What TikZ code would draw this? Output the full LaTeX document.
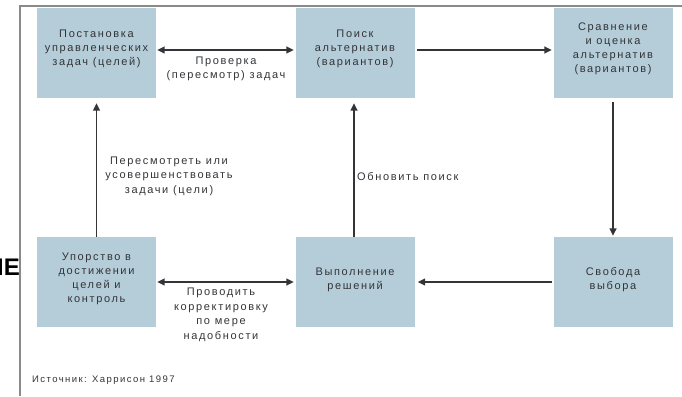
\documentclass[tikz,border=0pt]{standalone}
\usepackage{fontspec}
\setmainfont{Liberation Sans}
\newfontfamily\boxfont[LetterSpace=15]{Liberation Sans}
\newfontfamily\headfont{Liberation Sans}
\usetikzlibrary{arrows.meta}
\definecolor{boxblue}{RGB}{181,205,217}
\definecolor{inkgray}{RGB}{50,52,55}
\definecolor{framegray}{RGB}{138,138,138}
\begin{document}
\begin{tikzpicture}[x=1pt,y=-1pt,
  stepbox/.style={fill=boxblue,draw=none,minimum width=119pt,minimum height=90pt,inner sep=0pt},
  boxtext/.style={align=center,text=inkgray,inner sep=0pt,
    font=\boxfont\fontsize{11pt}{14pt}\selectfont},
  note/.style={align=center,text=inkgray,inner sep=0pt,
    font=\boxfont\fontsize{11pt}{14.5pt}\selectfont},
  flow/.style={draw=inkgray,line width=1.5pt,-{Triangle[length=7.5pt,width=7pt]}},
  both/.style={draw=inkgray,line width=1.5pt,{Triangle[length=7.5pt,width=7pt]}-{Triangle[length=7.5pt,width=7pt]}}]
\useasboundingbox (0,0) rectangle (682,396);
\clip (0,0) rectangle (682,396);

% frame lines
\draw[framegray,line width=2pt] (20,396) -- (20,6) -- (683,6);

% partly hidden heading at the left edge
\node[anchor=base east,inner sep=0pt,font=\headfont\bfseries\fontsize{24pt}{24pt}\selectfont] (head) at (20,275) {ЛЕ};

% boxes
\node[stepbox] (b1) at (96.5,53) {};
\node[stepbox] (b2) at (355,53) {};
\node[stepbox] (b3) at (613,53) {};
\node[stepbox] (b4) at (96.5,282) {};
\node[stepbox] (b5) at (355,282) {};
\node[stepbox] (b6) at (613,282) {};

% box captions
\node[boxtext] (t1) at ([yshift=4pt]b1.center) {Постановка\\управленческих\\задач (целей)};
\node[boxtext] (t2) at ([yshift=4pt]b2.center) {Поиск\\альтернатив\\(вариантов)};
\node[boxtext] (t3) at ([yshift=4pt]b3.center) {Сравнение\\и оценка\\альтернатив\\(вариантов)};
\node[boxtext] (t4) at ([yshift=3pt]b4.center) {Упорство в\\достижении\\целей и\\контроль};
\node[boxtext] (t5) at ([yshift=2pt]b5.center) {Выполнение\\решений};
\node[boxtext] (t6) at ([yshift=2pt]b6.center) {Свобода\\выбора};

% connectors
\draw[both,shorten <=1pt,shorten >=1.5pt] ([yshift=3pt]b1.east) -- ([yshift=3pt]b2.west);
\draw[flow,shorten <=2.5pt,shorten >=1.5pt] ([yshift=3pt]b2.east) -- ([yshift=3pt]b3.west);
\draw[flow,shorten <=4pt,shorten >=1pt] (b3.south) -- (b6.north);
\draw[flow,shorten <=1.5pt,shorten >=3pt] (b6.west) -- (b5.east);
\draw[flow,shorten >=5pt] ([xshift=-1pt]b5.north) -- ([xshift=-1pt]b2.south);
\draw[flow,shorten >=5pt] (b4.north) -- (b1.south);
\draw[both,shorten <=1pt,shorten >=1.5pt] (b4.east) -- (b5.west);

% connector labels
\node[note] (l1) at (226,69) {Проверка\\(пересмотр) задач};
\node[note] (l2) at (169,176) {Пересмотреть или\\усовершенствовать\\задачи (цели)};
\node[note,anchor=west] (l3) at (357,177) {Обновить поиск};
\node[note] (l4) at (221,315) {Проводить\\корректировку\\по мере\\надобности};

% source line
\node[anchor=west,text=inkgray,inner sep=0pt,font=\boxfont\fontsize{9.5pt}{11pt}\selectfont] (src) at (32,380) {Источник: Харрисон 1997};
\end{tikzpicture}
\end{document}
